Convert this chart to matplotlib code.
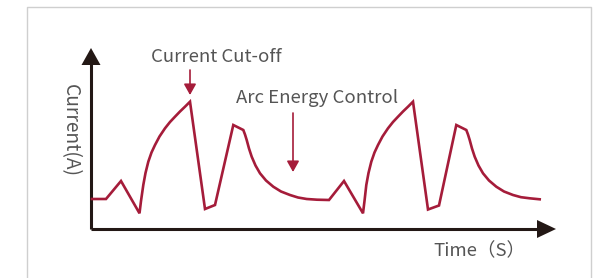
import matplotlib
matplotlib.use("Agg")
import matplotlib.pyplot as plt
from matplotlib.patches import FancyArrowPatch

# Waveform (time, current), arbitrary units
time = [1, 15, 30, 48.5,
        50, 52.3, 54.5, 57.3, 60.5, 64, 68.5, 74, 79, 84, 89, 94, 99,
        114, 124, 142.3, 152.3,
        154, 155.7, 158, 160.7, 164.5, 169, 175, 182.3, 190, 199, 207, 215.7, 226, 238,
        253, 272,
        273.5, 275.3, 277.5, 280.3, 283.5, 287, 291.5, 297, 302, 307, 312, 317, 322,
        337, 348, 365.3, 375.3,
        377, 378.7, 381, 383.7, 387.5, 392, 398, 405.3, 413, 422, 430, 438.7, 448.7]
current = [30, 30, 48, 15.7,
           28, 44, 56, 67.3, 76.5, 84, 92.5, 100.7, 107, 112.3, 117.5, 122.3, 127.3,
           20, 24, 104, 99,
           94.5, 89, 80.5, 72.3, 63.5, 55.7, 48.5, 42.3, 37.5, 34, 31.5, 30, 29.3, 29,
           48, 15.7,
           28, 44, 56, 67.3, 76.5, 84, 92.5, 100.7, 107, 112.3, 117.5, 122.3, 127.3,
           19.5, 23.5, 104, 99,
           94.5, 89, 80.5, 72.3, 63.5, 55.7, 48.5, 42.3, 37.5, 34, 31.8, 30.7, 29.7]

xlabel = "Time（S）"
ylabel = "Current(A)"
ann_cut = "Current Cut-off"
ann_arc = "Arc Energy Control"

W, H = 599, 278
fig = plt.figure(figsize=(W / 100, H / 100), dpi=100)
ax = fig.add_axes([0, 0, 1, 1])
ox, oy = 91, 229  # pixel origin
ax.set_xlim(-ox, W - ox)
ax.set_ylim(oy - H, oy)
ax.axis("off")

fam = ["Noto Sans CJK JP", "DejaVu Sans"]
red = "#a51c3a"
dark = "#231815"
gray = "#555555"

# light frame (open at the bottom)
ax.plot([27 - ox, 27 - ox, 591 - ox, 591 - ox], [-80, oy - 7, oy - 7, -80],
        color="#cfcfcf", lw=1.0)

# axes with arrows
ax.plot([0, 448], [0, 0], color=dark, lw=2.2, solid_capstyle="butt")
ax.plot([0, 0], [0, 166], color=dark, lw=2.2, solid_capstyle="butt")
ax.fill([446, 465, 446], [9, 0, -9], color=dark, lw=0)
ax.fill([-9.5, 0, 9.5], [164, 181, 164], color=dark, lw=0)

# waveform
ax.plot(time, current, color=red, lw=1.9, solid_joinstyle="miter")

# annotations
ax.text(125, 172, ann_cut, ha="center", va="center", fontsize=13.4, color=gray, family=fam)
ax.add_patch(FancyArrowPatch((99, 159), (99, 134), arrowstyle="-|>,head_length=5,head_width=2.8",
                             color=red, lw=1.2, mutation_scale=1.3, shrinkA=0, shrinkB=0))
ax.text(226, 131, ann_arc, ha="center", va="center", fontsize=13.4, color=gray, family=fam)
ax.add_patch(FancyArrowPatch((202, 116), (202, 57), arrowstyle="-|>,head_length=5,head_width=2.8",
                             color=red, lw=1.2, mutation_scale=1.3, shrinkA=0, shrinkB=0))
ax.text(-21, 99, ylabel, ha="center", va="center", rotation=-90, fontsize=13.8, color=gray, family=fam)
ax.text(388, -22, xlabel, ha="center", va="center", fontsize=13.4, color=gray, family=fam)

fig.savefig("out.png", dpi=100)
